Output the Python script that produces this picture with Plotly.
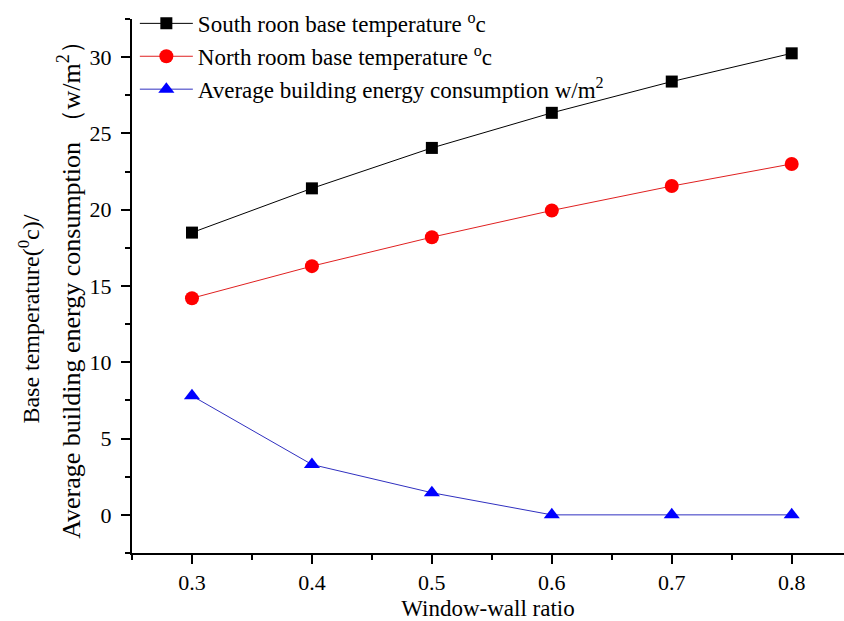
import plotly.graph_objects as go

x_ratio = [0.3, 0.4, 0.5, 0.6, 0.7, 0.8]
south_temp = [18.5, 21.4, 24.05, 26.35, 28.4, 30.25]
north_temp = [14.2, 16.3, 18.2, 19.95, 21.55, 23.0]
avg_energy = [7.8, 3.3, 1.45, 0.0, 0.0, 0.0]

FONT = "Liberation Serif, Times New Roman, serif"

fig = go.Figure()
fig.add_trace(go.Scatter(
    x=x_ratio, y=south_temp, mode="lines+markers",
    name="South roon base temperature <sup>o</sup>c",
    line=dict(color="#000000", width=1),
    marker=dict(symbol="square", size=12, color="#000000"),
))
fig.add_trace(go.Scatter(
    x=x_ratio, y=north_temp, mode="lines+markers",
    name="North room base temperature <sup>o</sup>c",
    line=dict(color="#e02020", width=1),
    marker=dict(symbol="circle", size=14, color="#ff0000"),
))
fig.add_trace(go.Scatter(
    x=x_ratio, y=avg_energy, mode="lines+markers",
    name="Average building energy consumption w/m<sup>2</sup>",
    line=dict(color="#3030c0", width=1),
    marker=dict(symbol="triangle-up", size=14, color="#0000ff"),
))

axis_common = dict(
    showline=True, linecolor="black", linewidth=2,
    ticks="outside", ticklen=9, tickwidth=2, tickcolor="black",
    showgrid=False, zeroline=False,
    tickfont=dict(family=FONT, size=22, color="black"),
)

fig.update_xaxes(
    range=[0.25, 0.8436], dtick=0.1, tick0=0.3, tickformat=".1f",
    minor=dict(ticks="outside", ticklen=5, tickwidth=2, tickcolor="black", dtick=0.05, tick0=0.25),
    title=dict(text="Window-wall ratio", font=dict(family=FONT, size=23, color="black"), standoff=6),
    **axis_common,
)
fig.update_yaxes(
    range=[-2.5, 32.5], dtick=5, tick0=0, ticklabelstandoff=5,
    minor=dict(ticks="outside", ticklen=5, tickwidth=2, tickcolor="black", dtick=2.5, tick0=-2.5),
    **axis_common,
)

fig.add_annotation(
    text="Base temperature(<sup>0</sup>c)/", textangle=-90,
    xref="paper", yref="paper", x=0, y=0.438, xshift=-102.5,
    xanchor="center", yanchor="middle", showarrow=False,
    font=dict(family=FONT, size=24, color="black"),
)
fig.add_annotation(
    text="Average building energy consumption （w/m<sup>2</sup>）", textangle=-90,
    xref="paper", yref="paper", x=0, y=0.505, xshift=-62.5,
    xanchor="center", yanchor="middle", showarrow=False,
    font=dict(family=FONT, size=26, color="black"),
)

fig.update_layout(
    width=844, height=621,
    margin=dict(l=132, r=0, t=19, b=68),
    plot_bgcolor="white", paper_bgcolor="white",
    showlegend=True,
    legend=dict(
        x=0.004, y=1.032, xanchor="left", yanchor="top",
        bgcolor="rgba(0,0,0,0)", borderwidth=0,
        font=dict(family=FONT, size=23, color="black"),
        itemwidth=53, tracegroupgap=0,
    ),
)

fig.write_html("out.html", config={"displayModeBar": False},
               post_script="document.body.style.margin='0px';")
